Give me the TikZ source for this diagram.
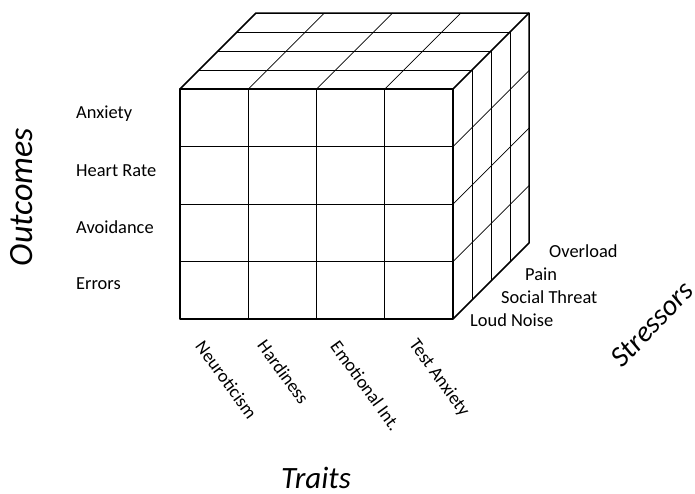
\documentclass[tikz,border=0pt]{standalone}
\usepackage{fontspec}
\setmainfont{Carlito}

\begin{document}
\begin{tikzpicture}
    [ x=1pt, y=-1pt
    , grid/.style={line width=0.7pt}
    , rim/.style={line width=1.5pt, line join=round}
    , level/.style={font=\fontsize{18.4}{21}\selectfont, anchor=west, inner sep=0pt}
    , factor/.style={font=\fontsize{18.4}{21}\selectfont, anchor=north west, inner sep=0pt, rotate=-54}
    , axis/.style={font=\fontsize{31}{36}\selectfont\itshape, inner sep=0pt}
    ]
  \useasboundingbox (0,0) rectangle (695,493);

  % front face
  \foreach \i in {1,2,3} {
    \draw[grid] (180+68.25*\i,89) -- (180+68.25*\i,319);
    \draw[grid] (180,89+57.5*\i) -- (453,89+57.5*\i);
  }
  % top face
  \foreach \k in {1,2,3} {
    \draw[grid] (180+19*\k,89-19*\k) -- (453+19*\k,89-19*\k);
    \draw[grid] (180+68.25*\k,89) -- (256+68.25*\k,13);
  }
  % right face
  \foreach \k in {1,2,3} {
    \draw[grid] (453+19*\k,89-19*\k) -- (453+19*\k,319-19*\k);
    \draw[grid] (453,89+57.5*\k) -- (529,13+57.5*\k);
  }
  % outline
  \draw[rim] (180,89) rectangle (453,319);
  \draw[rim] (180,89) -- (256,13) -- (529,13) -- (529,243) -- (453,319);
  \draw[rim] (453,89) -- (529,13);

  % outcomes
  \node[level] (anxiety) at (76,114) {Anxiety};
  \node[level] (heartrate) at (76,171) {Heart Rate};
  \node[level] (avoidance) at (76,227) {Avoidance};
  \node[level] (errors) at (76,284) {Errors};

  % traits
  \node[factor] (neuroticism) at (205,339) {Neuroticism};
  \node[factor] (hardiness) at (267,338) {Hardiness};
  \node[factor] (emotional) at (340,339) {Emotional Int.};
  \node[factor] (testanxiety) at (419,337) {Test Anxiety};

  % stressors
  \node[level] (overload) at (549,251) {Overload};
  \node[level] (pain) at (525,274) {Pain};
  \node[level] (social) at (501,297) {Social Threat};
  \node[level] (noise) at (470,320) {Loud Noise};

  % axis titles
  \node[axis, font=\fontsize{34}{38}\selectfont\itshape, rotate=90] (outcomes) at (22,197) {Outcomes};
  \node[axis, anchor=base] (traits) at (316,488) {Traits};
  \node[axis, font=\fontsize{29}{34}\selectfont\itshape, rotate=47] (stressors) at (652,324) {Stressors};
\end{tikzpicture}
\end{document}
